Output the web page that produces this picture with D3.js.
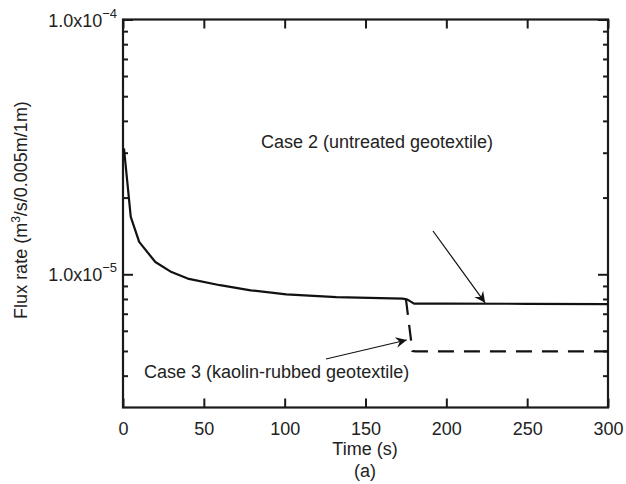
<!DOCTYPE html>
<html><head><meta charset="utf-8">
<script src="https://cdn.jsdelivr.net/npm/d3@7"></script>
<style>body{margin:0;background:#fff}svg{display:block}text{font-family:"Liberation Sans",Arial,sans-serif;fill:#222}</style>
</head><body><svg id="c" width="626" height="484"></svg>
<script>
// data
const case2Time = [0.6, 4.8, 10, 20, 30, 40, 60, 79, 101, 132, 173, 176, 180, 200, 250, 300];
const case2Flux = [3.12e-5, 1.68e-5, 1.34e-5, 1.117e-5, 1.02e-5, 9.62e-6, 9.06e-6, 8.65e-6, 8.34e-6, 8.14e-6, 8.02e-6, 7.95e-6, 7.67e-6, 7.67e-6, 7.66e-6, 7.64e-6];
const case3Time = [175, 179, 181, 300];
const case3Flux = [8.0e-6, 5.0e-6, 4.98e-6, 4.98e-6];
const xTicks = [0, 50, 100, 150, 200, 250, 300];
const yMajor = [1e-5, 1e-4];
const yMajorLabels = [["1.0x10", "\u22125"], ["1.0x10", "\u22124"]];
const yMinor = [4e-6,5e-6,6e-6,7e-6,8e-6,9e-6,2e-5,3e-5,4e-5,5e-5,6e-5,7e-5,8e-5,9e-5];
const labels = {
  case2: "Case 2 (untreated geotextile)",
  case3: "Case 3 (kaolin-rubbed geotextile)",
  xTitle: "Time (s)", sub: "(a)"
};

const svg = d3.select("#c");
const L = 123, R = 608, T = 19.5, B = 407.5;
const FS = 18;
const x = d3.scaleLinear().domain([0, 300]).range([L, R]);
const y = d3.scaleLog().domain([3e-6, 1e-4]).range([B, T]);

svg.append("defs").append("marker").attr("id","ah").attr("viewBox","0 0 10 10")
  .attr("refX",10).attr("refY",5).attr("markerWidth",16).attr("markerHeight",11)
  .attr("markerUnits","userSpaceOnUse").attr("orient","auto")
  .append("path").attr("d","M0,0 L10,5 L0,10 L3.5,5 Z").attr("fill","#111");

function styleAxis(g){ g.select(".domain").remove(); g.selectAll("line").attr("stroke","#1a1a1a").attr("stroke-width",2); }

// x axes (bottom with labels, top without), inward ticks
svg.append("g").attr("transform",`translate(0,${B})`)
  .call(d3.axisBottom(x).tickValues(xTicks).tickSize(-9).tickPadding(15).tickFormat(d3.format("d")))
  .call(styleAxis).call(g=>g.selectAll("text").attr("font-size",FS).attr("fill","#222"));
svg.append("g").attr("transform",`translate(0,${T})`)
  .call(d3.axisTop(x).tickValues(xTicks).tickSize(-9).tickFormat(""))
  .call(styleAxis);

// y axes: major and minor, left and right
svg.append("g").attr("transform",`translate(${L},0)`)
  .call(d3.axisLeft(y).tickValues(yMajor).tickSize(-10).tickFormat("")).call(styleAxis);
svg.append("g").attr("transform",`translate(${L},0)`)
  .call(d3.axisLeft(y).tickValues(yMinor).tickSize(-5).tickFormat("")).call(styleAxis);
svg.append("g").attr("transform",`translate(${R},0)`)
  .call(d3.axisRight(y).tickValues(yMajor).tickSize(-10).tickFormat("")).call(styleAxis);
svg.append("g").attr("transform",`translate(${R},0)`)
  .call(d3.axisRight(y).tickValues(yMinor).tickSize(-5).tickFormat("")).call(styleAxis);

// y major labels
yMajor.forEach((v,i)=>{
  const t = svg.append("text").attr("x", 117).attr("y", y(v)+7).attr("text-anchor","end").attr("font-size",FS);
  t.append("tspan").text(yMajorLabels[i][0]);
  t.append("tspan").attr("dy",-9).attr("font-size",13).text(yMajorLabels[i][1]);
});

// frame
svg.append("rect").attr("x",L).attr("y",T).attr("width",R-L).attr("height",B-T)
  .attr("fill","none").attr("stroke","#1a1a1a").attr("stroke-width",2.2);

// lines
const line = d3.line().x(d=>x(d[0])).y(d=>y(d[1]));
svg.append("path").datum(d3.zip(case2Time, case2Flux)).attr("d", line)
  .attr("fill","none").attr("stroke","#111").attr("stroke-width",2.2).attr("stroke-linejoin","round");
svg.append("path").datum(d3.zip(case3Time, case3Flux)).attr("d", line)
  .attr("fill","none").attr("stroke","#111").attr("stroke-width",2.2).attr("stroke-dasharray","16,10");

// annotations
svg.append("text").attr("x",377).attr("y",148).attr("text-anchor","middle").attr("font-size",FS).text(labels.case2);
svg.append("text").attr("x",144).attr("y",378).attr("font-size",FS).text(labels.case3);
svg.append("line").attr("x1",433).attr("y1",231).attr("x2",x(224)).attr("y2",y(7.66e-6)-1)
  .attr("stroke","#111").attr("stroke-width",1.2).attr("marker-end","url(#ah)");
svg.append("line").attr("x1",326).attr("y1",359).attr("x2",x(175.5)).attr("y2",340)
  .attr("stroke","#111").attr("stroke-width",1.2).attr("marker-end","url(#ah)");

// axis titles
svg.append("text").attr("x",365).attr("y",455).attr("text-anchor","middle").attr("font-size",FS).text(labels.xTitle);
svg.append("text").attr("x",365).attr("y",477).attr("text-anchor","middle").attr("font-size",FS).text(labels.sub);
const yt = svg.append("text").attr("transform","translate(27,210) rotate(-90)").attr("text-anchor","middle").attr("font-size",FS);
yt.append("tspan").text("Flux rate (m");
yt.append("tspan").attr("dy",-7).attr("font-size",12).text("3");
yt.append("tspan").attr("dy",7).text("/s/0.005m/1m)");
</script></body></html>
